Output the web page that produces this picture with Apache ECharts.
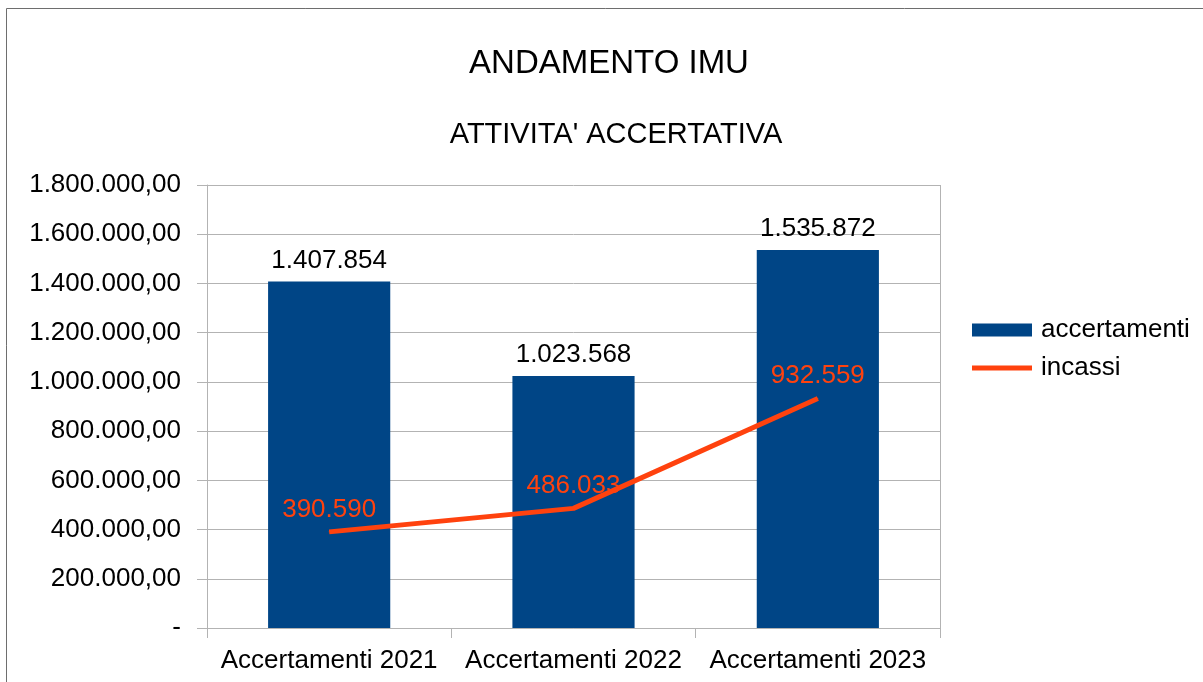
<!DOCTYPE html>
<html>
<head>
<meta charset="utf-8">
<script src="https://cdn.jsdelivr.net/npm/echarts@6/dist/echarts.min.js"></script>
<style>
  html, body { margin: 0; padding: 0; background: #fff; }
  #chart { width: 1203px; height: 682px; }
</style>
</head>
<body>
<div id="chart"></div>
<script>
// dati
const categorie = ['Accertamenti 2021', 'Accertamenti 2022', 'Accertamenti 2023'];
const accertamenti = [1407854, 1023568, 1535872];
const incassi = [390590, 486033, 932559];

const FONT = 'Liberation Sans, Arial, sans-serif';

// formato italiano: 1.234.567
function fmtInt(v) {
  return String(Math.round(v)).replace(/\B(?=(\d{3})+(?!\d))/g, '.');
}

// etichette asse y: "1.800.000,00", zero come "-"
function fmtAsse(v) {
  if (v === 0) return '-';
  return fmtInt(v) + ',00';
}

const chart = echarts.init(document.getElementById('chart'));

const option = {
  animation: false,
  backgroundColor: '#ffffff',
  textStyle: { fontFamily: FONT },
  title: [
    {
      text: 'ANDAMENTO IMU',
      left: 604, top: 42, textAlign: 'center',
      textStyle: { fontFamily: FONT, fontSize: 33, fontWeight: 'normal', color: '#000' }
    },
    {
      text: "ATTIVITA' ACCERTATIVA",
      left: 611, top: 115, textAlign: 'center',
      textStyle: { fontFamily: FONT, fontSize: 29, fontWeight: 'normal', color: '#000' }
    }
  ],
  legend: {
    orient: 'vertical',
    left: 972, top: 317,
    padding: 0,
    itemWidth: 60, itemHeight: 13,
    itemGap: 12,
    symbolKeepAspect: true,
    textStyle: { fontFamily: FONT, fontSize: 26, color: '#000', padding: [0, 0, 0, 4] },
    data: [
      { name: 'accertamenti', icon: 'rect' },
      { name: 'incassi', icon: 'path://M0,0 H60 V5 H0 Z' }
    ]
  },
  grid: { left: 207, right: 263, top: 185, bottom: 54 },
  xAxis: {
    type: 'category',
    data: categorie,
    axisLine: { show: true, lineStyle: { color: '#b3b3b3' } },
    axisTick: { show: true, length: 10, interval: 0, lineStyle: { color: '#b3b3b3' } },
    axisLabel: { fontFamily: FONT, fontSize: 26, color: '#000', margin: 20, interval: 0, hideOverlap: false },
    splitLine: { show: false }
  },
  yAxis: {
    type: 'value',
    min: 0, max: 1800000, interval: 200000,
    axisLine: { show: true, lineStyle: { color: '#b3b3b3' } },
    axisTick: { show: true, length: 10, lineStyle: { color: '#b3b3b3' } },
    axisLabel: { fontFamily: FONT, fontSize: 26, color: '#000', margin: 26, formatter: fmtAsse },
    splitLine: { show: true, lineStyle: { color: '#b3b3b3' } }
  },
  graphic: [
    {
      type: 'rect',
      shape: { x: 6.5, y: 8.5, width: 1300, height: 800 },
      style: { fill: 'none', stroke: '#6e6e6e', lineWidth: 1 },
      silent: true
    },
    {
      type: 'line',
      shape: { x1: 940.5, y1: 185, x2: 940.5, y2: 638 },
      style: { stroke: '#b3b3b3', lineWidth: 1 },
      silent: true
    }
  ],
  series: [
    {
      name: 'accertamenti',
      type: 'bar',
      data: accertamenti,
      barWidth: '50%',
      itemStyle: { color: '#004586' },
      label: {
        show: true, position: 'top', distance: 8,
        fontFamily: FONT, fontSize: 26, color: '#000',
        formatter: p => fmtInt(p.value)
      },
      z: 2
    },
    {
      name: 'incassi',
      type: 'line',
      data: incassi,
      symbol: 'circle',
      symbolSize: 1,
      showSymbol: true,
      lineStyle: { color: '#ff420e', width: 5 },
      itemStyle: { color: '#ff420e' },
      label: {
        show: true, position: 'top', distance: 9,
        fontFamily: FONT, fontSize: 26, color: '#ff420e',
        formatter: p => fmtInt(p.value)
      },
      z: 3
    }
  ]
};

chart.setOption(option);
</script>
</body>
</html>
